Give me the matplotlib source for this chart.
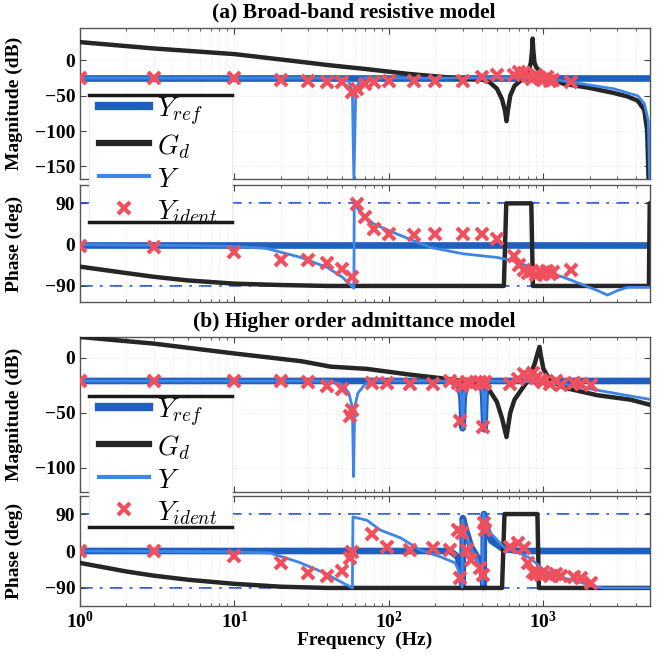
import numpy as np
import matplotlib
matplotlib.use('Agg')
import matplotlib.pyplot as plt
from matplotlib.lines import Line2D
from matplotlib.patches import Rectangle

plt.rcParams['font.family'] = 'Liberation Serif'
plt.rcParams['font.weight'] = 'bold'
plt.rcParams['mathtext.fontset'] = 'cm'

# ---------------- (a) Broad-band resistive model ----------------
# reference admittance (flat)
f_yref_a = [1, 5000]
mag_yref_a = [-25, -25]
ph_yref_a = [0, 0]

# grid admittance G_d
f_gd_a = [1, 3, 10, 27, 42, 70, 133, 270, 400, 450, 500, 540, 565, 577, 590, 610, 650, 700, 760,
          800, 830, 845, 852, 860, 875, 900, 960, 1100, 1350, 2000, 2845, 3500, 4075, 4500, 4700, 4800]
mag_gd_a = [26, 17, 9, -2, -7, -12, -19, -25, -27, -31, -40, -55, -72, -86, -70, -50, -36, -30, -22,
            -15, -3, 15, 31, 15, -3, -10, -16, -26, -33, -39, -46, -51, -57, -70, -100, -170]
fph_gd_a = [1, 2, 3, 5, 10, 20, 40, 100, 555, 575, 835, 855, 4820, 4880, 5000]
ph_gd_a = [-48, -62, -70, -78, -85, -88, -90, -90, -90, 90, 90, -90, -90, 90, 90]

# identified model Y
f_y_a = [1, 50, 55, 58, 59.3, 61, 64, 70, 1000, 1160, 2845, 4075, 4500, 4780, 4880]
mag_y_a = [-25, -25, -30, -45, -170, -45, -30, -25, -25, -27, -40, -50, -61, -86, -170]
fph_y_a = [1, 5, 10, 16, 27, 40, 50, 59.3, 59.6, 68, 80, 113, 185, 304, 504, 640, 825,
           1350, 2240, 2600, 3020, 3500, 5000]
ph_y_a = [0, -2, -4, -8, -28, -50, -71, -95, 90, 62, 45, 23, -6, -20, -28, -35, -49,
          -71, -100, -110, -100, -93, -93]

# measured points Y_ident
f_id_a = [1, 3, 10, 20, 30, 40, 50, 58, 62, 70, 80, 100, 145, 200, 300, 400, 500,
          650, 700, 750, 800, 850, 900, 950, 1000, 1050, 1100, 1150, 1500]
mag_id_a = [-25, -25, -25, -28, -29, -30, -31, -45, -40, -34, -31, -29, -29, -29, -29, -24, -21,
            -20, -16, -18, -22, -26, -20, -25, -28, -24, -29, -27, -31]
ph_id_a = [-2, -6, -17, -33, -33, -41, -54, -71, 89, 61, 35, 24, 20, 24, 24, 24, 13,
           -24, -45, -55, -62, -58, -66, -60, -64, -57, -63, -60, -56]

# ---------------- (b) Higher order admittance model ----------------
f_yref_b = [1, 250, 280, 295, 300, 305, 320, 400, 408, 415, 422, 435, 5000]
mag_yref_b = [-21, -21, -22, -35, -64, -35, -21, -21, -35, -65, -35, -21, -21]
fph_yref_b = [1, 250, 280, 295, 300, 301, 310, 340, 380, 400, 410, 412, 425, 460, 550, 700, 5000]
ph_yref_b = [0, 0, -15, -60, -88, 80, 60, 10, -20, -50, -88, 90, 60, 25, 5, 0, 0]

f_gd_b = [1, 3, 10, 27, 42, 72, 133, 270, 390, 450, 500, 540, 577, 610, 650, 720, 800, 880,
          920, 944, 960, 1000, 1100, 1350, 2240, 3660, 5000]
mag_gd_b = [19, 13, 4, -3, -8, -10, -15, -20, -25, -30, -40, -55, -72, -50, -38, -29, -20, -5,
            5, 10, 3, -10, -20, -27, -34, -38, -43]
fph_gd_b = [1, 2, 3, 5, 10, 20, 40, 540, 560, 915, 935, 5000]
ph_gd_b = [-29, -50, -60, -70, -80, -87, -90, -90, 90, 90, -90, -90]

f_y_b = [1, 40, 50, 55, 58, 59, 60, 63, 70, 80, 280, 295, 300, 305, 320, 400, 408, 415, 422, 435,
         1000, 1500, 2845, 5000]
mag_y_b = [-21, -21, -24, -32, -45, -108, -45, -32, -24, -21, -21, -35, -64, -35, -21, -21, -35, -65,
           -35, -21, -22, -25, -32, -38]
fph_y_b = [1, 10, 17, 26, 37, 44, 58, 58.5, 72, 88, 119, 160, 215, 268, 285, 298, 300, 310, 337,
           374, 400, 403, 409, 454, 560, 700, 825, 1000, 1230, 1700, 2150, 2500, 5000]
ph_y_b = [0, -2, -5, -27, -51, -66, -90, 83, 75, 51, 32, 2, -14, -29, -50, -88, 75, 50, 10,
          -22, -60, -80, 92, 44, 8, -5, -18, -45, -62, -75, -88, -90, -90]

f_id_b = [1, 3, 10, 20, 30, 40, 50, 56, 58, 78, 97, 137, 194, 250, 282, 290, 299, 320, 340,
          390, 405, 410, 420, 610, 680, 750, 800, 860, 900, 960, 1000, 1100, 1200, 1300, 1570,
          1750, 2030]
mag_id_b = [-21, -21, -21, -21, -22, -26, -28, -53, -47, -23, -23, -24, -24, -21, -23, -57, -26,
            -22, -24, -22, -63, -24, -22, -24, -19, -15, -17, -14, -18, -20, -22, -24, -21, -25,
            -23, -24, -25]
ph_id_b = [0, 0, -11, -30, -53, -62, -49, -17, -2, 41, 10, 2, 7, 2, 51, -66, 44, 2, -22,
           -41, -58, 68, 51, 10, 19, 7, -29, -51, -55, -58, -52, -60, -55, -62, -63, -66, -78]

# styles
c_yref = '#1f5fbf'
c_y = '#3d86e8'
c_gd = '#262626'
c_id = '#f0505e'
c_ref90 = '#2050d8'

fig = plt.figure(figsize=(6.57, 6.58), dpi=100)
W, H = 657.0, 658.0
left, right = 80 / W, 650 / W


def make_ax(top_px, bot_px):
    return fig.add_axes([left, 1 - bot_px / H, right - left, (bot_px - top_px) / H])


ax_ma = make_ax(28, 179)
ax_pa = make_ax(185, 302)
ax_mb = make_ax(337, 492)
ax_pb = make_ax(496, 606)

xlim = (1, 4900)


def draw_mag(ax, fr, mr, fg, mg, fy, my, fi, mi):
    ax.semilogx(fr, mr, color=c_yref, lw=4.8, solid_capstyle='butt', zorder=2)
    ax.semilogx(fg, mg, color=c_gd, lw=3.2, zorder=3)
    ax.semilogx(fy, my, color=c_y, lw=2.0, zorder=4)
    ax.semilogx(fi, mi, ls='none', marker='x', color=c_id, ms=8, mew=3, zorder=5)


def draw_ph(ax, fr, pr, fg, pg, fy, py, fi, pi):
    ax.axhline(90, color=c_ref90, lw=1.3, ls=(0, (7, 4, 1.5, 4)), zorder=1)
    ax.axhline(-90, color=c_ref90, lw=1.3, ls=(0, (7, 4, 1.5, 4)), zorder=1)
    ax.semilogx(fr, pr, color=c_yref, lw=4.8, zorder=2)
    ax.semilogx(fg, pg, color=c_gd, lw=3.2, zorder=3)
    ax.semilogx(fy, py, color=c_y, lw=2.0, zorder=4)
    ax.semilogx(fi, pi, ls='none', marker='x', color=c_id, ms=8, mew=3, zorder=5)


draw_mag(ax_ma, f_yref_a, mag_yref_a, f_gd_a, mag_gd_a, f_y_a, mag_y_a, f_id_a, mag_id_a)
draw_ph(ax_pa, f_yref_a, ph_yref_a, fph_gd_a, ph_gd_a, fph_y_a, ph_y_a, f_id_a, ph_id_a)
draw_mag(ax_mb, f_yref_b, mag_yref_b, f_gd_b, mag_gd_b, f_y_b, mag_y_b, f_id_b, mag_id_b)
draw_ph(ax_pb, fph_yref_b, ph_yref_b, fph_gd_b, ph_gd_b, fph_y_b, ph_y_b, f_id_b, ph_id_b)

ax_ma.set_ylim(-168, 46)
ax_ma.set_yticks([0, -50, -100, -150])
ax_pa.set_ylim(-125, 130)
ax_mb.set_ylim(-122, 19)
ax_mb.set_yticks([0, -50, -100])
ax_pb.set_ylim(-134, 134)
for ax in (ax_pa, ax_pb):
    ax.set_yticks([90, 0, -90])

for ax in (ax_ma, ax_pa, ax_mb, ax_pb):
    ax.set_xlim(*xlim)
    ax.grid(True, which='both', axis='x', ls=':', color='#dcdcdc', lw=0.5)
    ax.grid(True, which='major', axis='y', ls=':', color='#dcdcdc', lw=0.5)
    ax.tick_params(which='both', direction='in', top=True, right=True, labelsize=14,
                   color='#444444')
    ax.tick_params(which='major', length=4)
    ax.tick_params(which='minor', length=2)
    for s in ax.spines.values():
        s.set_color('#555555')
        s.set_linewidth(1.0)
    ax.yaxis.set_label_coords(-0.1, 0.5)
    if ax is not ax_pb:
        ax.tick_params(labelbottom=False)

ax_ma.set_ylabel('Magnitude (dB)', fontsize=14, fontweight='bold')
ax_pa.set_ylabel('Phase (deg)', fontsize=14, fontweight='bold')
ax_mb.set_ylabel('Magnitude (dB)', fontsize=14, fontweight='bold')
ax_pb.set_ylabel('Phase (deg)', fontsize=14, fontweight='bold')
ax_pb.set_xlabel('Frequency  (Hz)', fontsize=14, fontweight='bold', labelpad=0)

fig.text(354 / W, 1 - 12 / H, '(a) Broad-band resistive model', ha='center', va='center',
         fontsize=15.5, fontweight='bold')
fig.text(354 / W, 1 - 322 / H, '(b) Higher order admittance model', ha='center', va='center',
         fontsize=15.5, fontweight='bold')

handles = [Line2D([], [], color=c_yref, lw=6),
           Line2D([], [], color=c_gd, lw=4.5),
           Line2D([], [], color=c_y, lw=3),
           Line2D([], [], ls='none', marker='x', color=c_id, ms=9, mew=3)]
labels = [r'$Y_{ref}$', r'$G_d$', r'$Y$', r'$Y_{ident}$']

# legend boxes (white panel with dark top/bottom rules), spanning both axes of a model
for top_px, bot_px in ((95, 222), (396, 527)):
    fig.add_artist(Rectangle((89 / W, 1 - bot_px / H), (232 - 89) / W, (bot_px - top_px) / H,
                             transform=fig.transFigure, facecolor='white', edgecolor='#e6e6e6',
                             lw=0.6, zorder=4.8))
    for yy in (top_px, bot_px):
        fig.add_artist(Line2D([89 / W, 232 / W], [1 - yy / H, 1 - yy / H],
                              transform=fig.transFigure, color='#1a1a1a', lw=2.5, zorder=6))
    fig.legend(handles, labels, loc='upper left', bbox_to_anchor=(99 / W, 1 - top_px / H),
               fontsize=19.5, handlelength=1.85, handleheight=1.17, labelspacing=0.12,
               borderpad=0.0, handletextpad=0.3, borderaxespad=0, frameon=False)

fig.savefig('out.png', dpi=100)
